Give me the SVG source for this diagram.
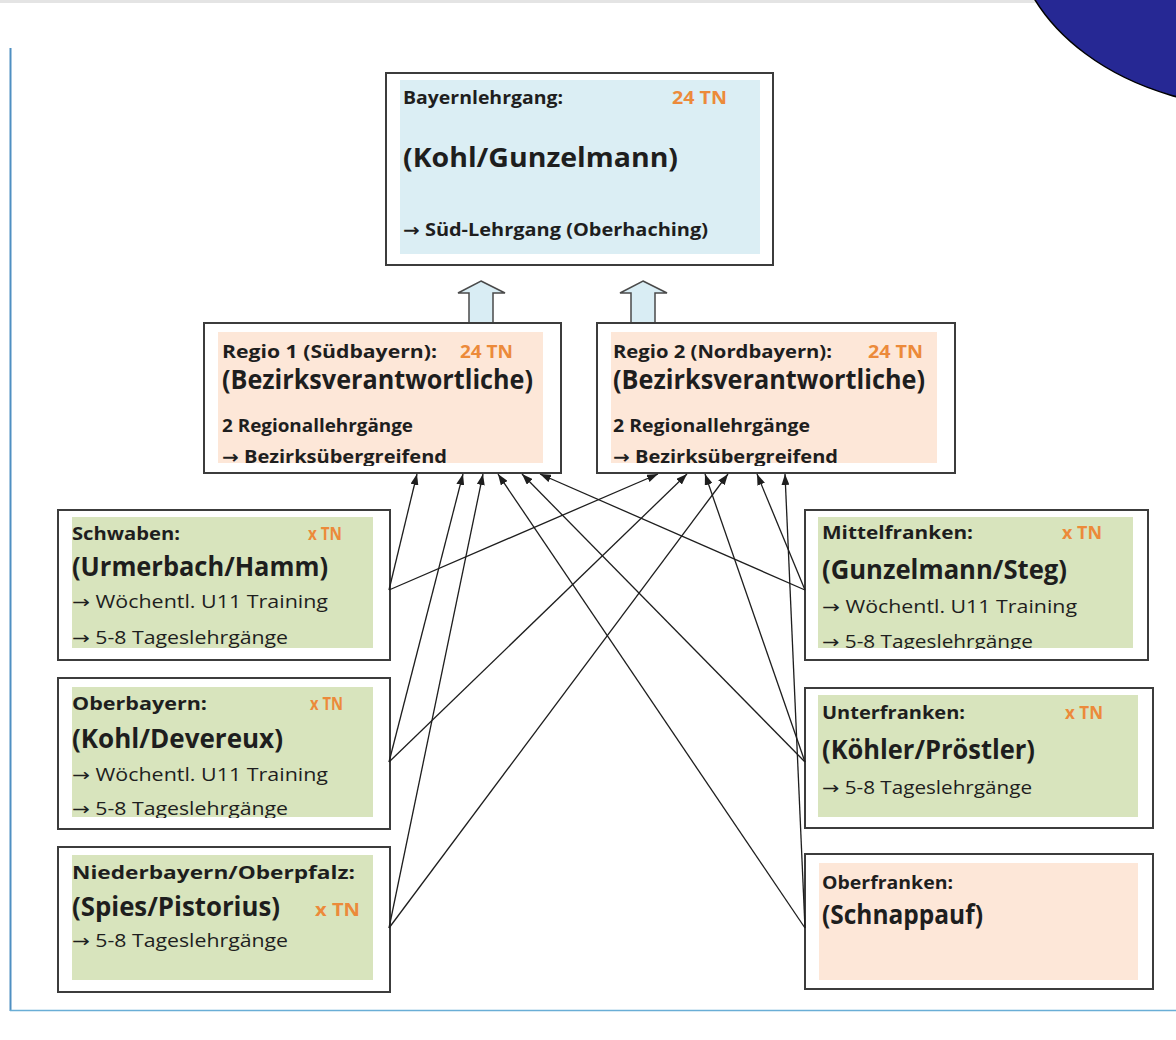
<svg xmlns="http://www.w3.org/2000/svg" width="1176" height="1040" viewBox="0 0 1176 1040">
<defs>
<style>
.box{fill:#fff;stroke:#3c3c3c;stroke-width:2}
.fb{fill:#dbeef4}
.fp{fill:#fde7d8}
.fg{fill:#d8e4bd}
text{font-family:"Open Sans","DejaVu Sans",sans-serif;fill:#1e1e1e}
.lbl{font-size:17.5px;font-weight:700}
.nm{font-size:26.5px;font-weight:700}
.sb{font-size:17.5px;font-weight:400}
.sbb{font-size:17.5px;font-weight:700}
.tn{font-size:17px;font-weight:700;fill:#ec8a3a}
.con line{stroke:#1e1e1e;stroke-width:1.3;marker-end:url(#ah)}
.hol{fill:#d9edf4;stroke:#4a4a4a;stroke-width:1.5}
</style>
<marker id="ah" markerUnits="userSpaceOnUse" markerWidth="11" markerHeight="8" refX="11" refY="4" orient="auto">
<path d="M0,0 L11,4 L0,8 z" fill="#1e1e1e"/>
</marker>
<clipPath id="cR1"><rect x="218" y="332" width="325" height="134"/></clipPath>
<clipPath id="cR2"><rect x="611" y="332" width="326" height="134"/></clipPath>
<clipPath id="cSw"><rect x="72" y="517" width="301" height="132"/></clipPath>
<clipPath id="cOb"><rect x="72" y="687" width="301" height="131"/></clipPath>
<clipPath id="cMf"><rect x="818" y="517" width="315" height="132"/></clipPath>
</defs>
<rect x="0" y="0" width="1176" height="1040" fill="#fff"/>
<rect x="0" y="0" width="1176" height="3" fill="#e4e4e4"/>
<ellipse cx="1262" cy="-78" rx="250" ry="186" fill="#262894" stroke="#000" stroke-width="1.5"/>
<line x1="10.5" y1="48" x2="10.5" y2="1011" stroke="#4f8fc2" stroke-width="2"/>
<line x1="10" y1="1010.5" x2="1176" y2="1010.5" stroke="#6aaed6" stroke-width="1.5"/>

<g id="bayern">
<rect class="box" x="386" y="73" width="387" height="192"/>
<rect class="fb" x="400" y="80" width="360" height="174"/>
<text class="lbl" x="403" y="104" textLength="160" lengthAdjust="spacingAndGlyphs">Bayernlehrgang:</text>
<text class="tn" x="672" y="104" textLength="55" lengthAdjust="spacingAndGlyphs">24 TN</text>
<text class="nm" x="403" y="167" textLength="275" lengthAdjust="spacingAndGlyphs">(Kohl/Gunzelmann)</text>
<text class="sbb" x="403" y="236" textLength="305" lengthAdjust="spacingAndGlyphs">→ Süd-Lehrgang (Oberhaching)</text>
</g>

<g id="hollow-arrows">
<path class="hol" d="M481,281 L505,293 L493,293 L493,323 L469,323 L469,293 L458,293 Z"/>
<path class="hol" d="M643,281 L667,293 L655,293 L655,323 L631,323 L631,293 L620,293 Z"/>
</g>

<g id="regio1">
<rect class="box" x="204" y="323" width="357" height="150"/>
<rect class="fp" x="218" y="332" width="325" height="131"/>
<text class="lbl" x="222" y="358" textLength="215" lengthAdjust="spacingAndGlyphs">Regio 1 (Südbayern):</text>
<text class="tn" x="460" y="358" textLength="53" lengthAdjust="spacingAndGlyphs">24 TN</text>
<text class="nm" x="222" y="389" textLength="311" lengthAdjust="spacingAndGlyphs">(Bezirksverantwortliche)</text>
<text class="sbb" x="222" y="432" textLength="191" lengthAdjust="spacingAndGlyphs">2 Regionallehrgänge</text>
<text class="sbb" x="222" y="463" textLength="225" lengthAdjust="spacingAndGlyphs" clip-path="url(#cR1)">→ Bezirksübergreifend</text>
</g>

<g id="regio2">
<rect class="box" x="597" y="323" width="358" height="150"/>
<rect class="fp" x="611" y="332" width="326" height="131"/>
<text class="lbl" x="613" y="358" textLength="219" lengthAdjust="spacingAndGlyphs">Regio 2 (Nordbayern):</text>
<text class="tn" x="868" y="358" textLength="55" lengthAdjust="spacingAndGlyphs">24 TN</text>
<text class="nm" x="613" y="389" textLength="312" lengthAdjust="spacingAndGlyphs">(Bezirksverantwortliche)</text>
<text class="sbb" x="613" y="432" textLength="197" lengthAdjust="spacingAndGlyphs">2 Regionallehrgänge</text>
<text class="sbb" x="613" y="463" textLength="225" lengthAdjust="spacingAndGlyphs" clip-path="url(#cR2)">→ Bezirksübergreifend</text>
</g>

<g id="schwaben">
<rect class="box" x="58" y="510" width="332" height="150"/>
<rect class="fg" x="72" y="517" width="301" height="131"/>
<text class="lbl" x="72" y="540" textLength="108" lengthAdjust="spacingAndGlyphs">Schwaben:</text>
<text class="tn" x="308" y="540" textLength="34" lengthAdjust="spacingAndGlyphs">x TN</text>
<text class="nm" x="72" y="576" textLength="256" lengthAdjust="spacingAndGlyphs">(Urmerbach/Hamm)</text>
<text class="sb" x="72" y="608" textLength="256" lengthAdjust="spacingAndGlyphs">→ Wöchentl. U11 Training</text>
<text class="sb" x="72" y="644" textLength="216" lengthAdjust="spacingAndGlyphs" clip-path="url(#cSw)">→ 5-8 Tageslehrgänge</text>
</g>

<g id="oberbayern">
<rect class="box" x="58" y="678" width="332" height="151"/>
<rect class="fg" x="72" y="687" width="301" height="130"/>
<text class="lbl" x="72" y="710" textLength="135" lengthAdjust="spacingAndGlyphs">Oberbayern:</text>
<text class="tn" x="310" y="710" textLength="33" lengthAdjust="spacingAndGlyphs">x TN</text>
<text class="nm" x="72" y="748" textLength="211" lengthAdjust="spacingAndGlyphs">(Kohl/Devereux)</text>
<text class="sb" x="72" y="781" textLength="256" lengthAdjust="spacingAndGlyphs">→ Wöchentl. U11 Training</text>
<text class="sb" x="72" y="815" textLength="216" lengthAdjust="spacingAndGlyphs" clip-path="url(#cOb)">→ 5-8 Tageslehrgänge</text>
</g>

<g id="niederbayern">
<rect class="box" x="58" y="847" width="332" height="145"/>
<rect class="fg" x="72" y="855" width="301" height="125"/>
<text class="lbl" x="72" y="879" textLength="283" lengthAdjust="spacingAndGlyphs">Niederbayern/Oberpfalz:</text>
<text class="nm" x="72" y="916" textLength="208" lengthAdjust="spacingAndGlyphs">(Spies/Pistorius)</text>
<text class="tn" x="315" y="916" textLength="45" lengthAdjust="spacingAndGlyphs">x TN</text>
<text class="sb" x="72" y="947" textLength="216" lengthAdjust="spacingAndGlyphs">→ 5-8 Tageslehrgänge</text>
</g>

<g id="mittelfranken">
<rect class="box" x="805" y="510" width="343" height="150"/>
<rect class="fg" x="818" y="517" width="315" height="131"/>
<text class="lbl" x="822" y="539" textLength="151" lengthAdjust="spacingAndGlyphs">Mittelfranken:</text>
<text class="tn" x="1062" y="539" textLength="40" lengthAdjust="spacingAndGlyphs">x TN</text>
<text class="nm" x="822" y="579" textLength="245" lengthAdjust="spacingAndGlyphs">(Gunzelmann/Steg)</text>
<text class="sb" x="822" y="613" textLength="255" lengthAdjust="spacingAndGlyphs">→ Wöchentl. U11 Training</text>
<text class="sb" x="822" y="648" textLength="211" lengthAdjust="spacingAndGlyphs" clip-path="url(#cMf)">→ 5-8 Tageslehrgänge</text>
</g>

<g id="unterfranken">
<rect class="box" x="805" y="688" width="348" height="140"/>
<rect class="fg" x="818" y="695" width="320" height="122"/>
<text class="lbl" x="822" y="719" textLength="143" lengthAdjust="spacingAndGlyphs">Unterfranken:</text>
<text class="tn" x="1065" y="719" textLength="38" lengthAdjust="spacingAndGlyphs">x TN</text>
<text class="nm" x="822" y="759" textLength="213" lengthAdjust="spacingAndGlyphs">(Köhler/Pröstler)</text>
<text class="sb" x="822" y="794" textLength="210" lengthAdjust="spacingAndGlyphs">→ 5-8 Tageslehrgänge</text>
</g>

<g id="oberfranken">
<rect class="box" x="805" y="854" width="348" height="135"/>
<rect class="fp" x="819" y="863" width="319" height="117"/>
<text class="lbl" x="822" y="889" textLength="131" lengthAdjust="spacingAndGlyphs">Oberfranken:</text>
<text class="nm" x="822" y="924" textLength="161" lengthAdjust="spacingAndGlyphs">(Schnappauf)</text>
</g>

<g id="connectors" class="con">
<line x1="389" y1="590" x2="417" y2="474"/>
<line x1="389" y1="590" x2="658" y2="474"/>
<line x1="389" y1="762" x2="463" y2="474"/>
<line x1="389" y1="762" x2="687" y2="474"/>
<line x1="389" y1="928" x2="483" y2="474"/>
<line x1="389" y1="928" x2="728" y2="474"/>
<line x1="805" y1="590" x2="540" y2="474"/>
<line x1="805" y1="590" x2="757" y2="474"/>
<line x1="805" y1="762" x2="522" y2="474"/>
<line x1="805" y1="762" x2="705" y2="474"/>
<line x1="805" y1="928" x2="498" y2="474"/>
<line x1="805" y1="928" x2="785" y2="474"/>
</g>
</svg>
